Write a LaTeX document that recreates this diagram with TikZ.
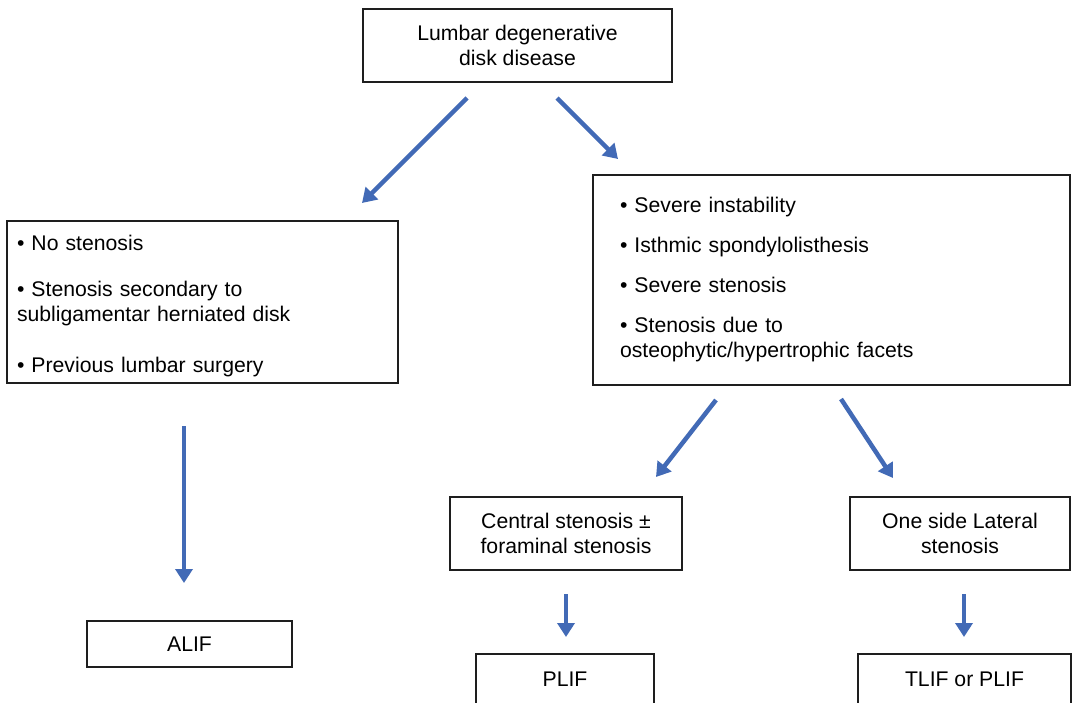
\documentclass[tikz,border=0pt]{standalone}
\usepackage{fontspec}
\setmainfont{Liberation Sans}
\usetikzlibrary{arrows.meta}
\definecolor{arrowblue}{RGB}{66,106,182}
\definecolor{boxline}{RGB}{30,30,30}
\begin{document}
\begin{tikzpicture}[x=1pt,y=-1pt,
  box/.style={draw=boxline, line width=2.5pt, inner sep=0pt, align=center,
    font=\fontsize{21.2}{25}\selectfont},
  listbox/.style={box, align=left, inner ysep=0pt},
  flow/.style={draw=arrowblue, line width=4.5pt, -{Triangle[length=14pt,width=17pt]}}]
\useasboundingbox (0,0) rectangle (1073,702);
\clip (0,0) rectangle (1073,702);
\fill[white] (0,0) rectangle (1073,702);

\node[box, minimum width=309pt, minimum height=73pt] (top) at (517.5,45.5)
  {Lumbar degenerative\\disk disease};

\node[box, minimum width=391pt, minimum height=162pt] (left) at (202.5,302) {};
\node[listbox, draw=none, text width=371pt, inner xsep=10pt] (lefttext) at (202.5,306.5)
  {• No stenosis\\[21pt]
   • Stenosis secondary to\\subligamentar herniated disk\\[26pt]
   • Previous lumbar surgery};

\node[listbox, text width=423pt, inner xsep=27pt, minimum height=210pt] (right) at (831.5,280)
  {• Severe instability\\[15pt]
   • Isthmic spondylolisthesis\\[15pt]
   • Severe stenosis\\[15pt]
   • Stenosis due to\\osteophytic/hypertrophic facets};

\node[box, minimum width=232pt, minimum height=73pt] (central) at (566,533.5)
  {Central stenosis ±\\foraminal stenosis};
\node[box, minimum width=220pt, minimum height=73pt] (oneside) at (960,533.5)
  {One side Lateral\\stenosis};

\node[box, minimum width=205pt, minimum height=46pt] (alif) at (189.5,644) {ALIF};
\node[box, minimum width=178pt, minimum height=50pt] (plif) at (565,679) {PLIF};
\node[box, minimum width=213pt, minimum height=50pt] (tlif) at (964.5,679) {TLIF or PLIF};

\coordinate (a1s) at (467,98);  \coordinate (a1e) at (362,203);
\coordinate (a2s) at (557,98);  \coordinate (a2e) at (618,159);
\coordinate (a3s) at (184,426); \coordinate (a3e) at (184,583);
\coordinate (a4s) at (716,400); \coordinate (a4e) at (656,477);
\coordinate (a5s) at (841,399); \coordinate (a5e) at (893,478);
\coordinate (a6s) at (566,594); \coordinate (a6e) at (566,637);
\coordinate (a7s) at (964,594); \coordinate (a7e) at (964,637);

\draw[flow] (a1s) -- (a1e);
\draw[flow] (a2s) -- (a2e);
\draw[flow] (a3s) -- (a3e);
\draw[flow] (a4s) -- (a4e);
\draw[flow] (a5s) -- (a5e);
\draw[flow] (a6s) -- (a6e);
\draw[flow] (a7s) -- (a7e);
\end{tikzpicture}
\end{document}
